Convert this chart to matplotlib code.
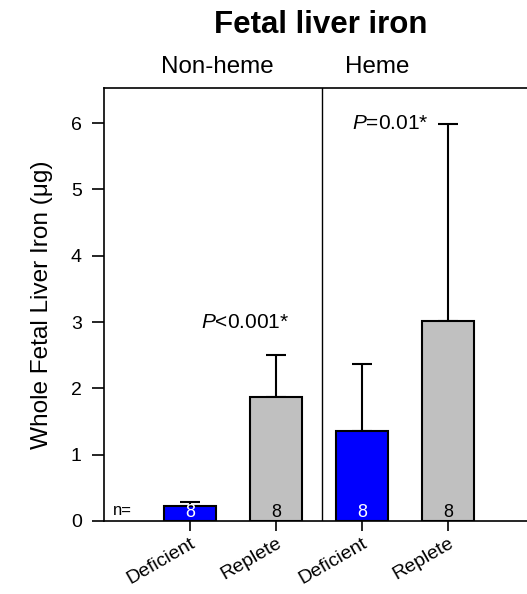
import matplotlib

matplotlib.use("Agg")
import matplotlib.pyplot as plt

plt.rcParams["font.family"] = ["Liberation Sans", "DejaVu Sans"]
plt.rcParams["mathtext.fontset"] = "custom"
plt.rcParams["mathtext.rm"] = "Liberation Sans"
plt.rcParams["mathtext.it"] = "Liberation Sans:italic"

groups = ["Non-heme", "Heme"]
labels = ["Deficient", "Replete", "Deficient", "Replete"]
means = [0.22, 1.87, 1.35, 3.02]
errs = [0.07, 0.63, 1.02, 2.97]
counts = [8, 8, 8, 8]
colors = ["#0000ff", "#c0c0c0", "#0000ff", "#c0c0c0"]
count_colors = ["white", "black", "white", "black"]
pvals = ["$P$<0.001*", "$P$=0.01*"]

x = [1, 2, 3, 4]

fig = plt.figure(figsize=(5.27, 5.94), dpi=100)
ax = fig.add_axes([0.1973, 0.1229, 0.8027, 0.7290])

ax.bar(x, means, width=0.6, color=colors, edgecolor="black", linewidth=1.5, zorder=2)
ax.errorbar(x, means, yerr=[[0] * 4, errs], fmt="none", ecolor="black",
            elinewidth=1.5, capsize=7, capthick=1.5, zorder=1)

for xi, n, c in zip(x, counts, count_colors):
    ax.text(xi, 0.0, str(n), ha="center", va="bottom", fontsize=13, color=c, zorder=3)
ax.text(0.1, 0.05, "n=", ha="left", va="bottom", fontsize=12)

ax.text(1.64, 3.0, pvals[0], ha="center", va="center", fontsize=15)
ax.text(3.33, 6.0, pvals[1], ha="center", va="center", fontsize=15)

ax.axvline(2.53, color="black", linewidth=1.0)

ax.set_xlim(0, 4.92)
ax.set_ylim(0, 6.53)
ax.set_yticks(range(7))
ax.set_xticks(x)
ax.set_xticklabels(labels, rotation=30, ha="right", rotation_mode="anchor", fontsize=14)
ax.tick_params(axis="y", direction="out", length=9, width=1.2, labelsize=14, pad=7)
ax.tick_params(axis="x", direction="out", length=7, width=1.2, pad=3)
ax.spines["right"].set_visible(False)
for s in ["left", "bottom", "top"]:
    ax.spines[s].set_linewidth(1.2)
ax.set_ylabel("Whole Fetal Liver Iron (\u03bcg)", fontsize=17.6, labelpad=13)

fig.text(321 / 527, 1 - 25 / 594, "Fetal liver iron", ha="center", va="center",
         fontsize=22.5, fontweight="bold")
fig.text(217 / 527, 1 - 67 / 594, groups[0], ha="center", va="center", fontsize=17.4)
fig.text(377 / 527, 1 - 67 / 594, groups[1], ha="center", va="center", fontsize=17.4)

fig.savefig("out.png", dpi=100)
